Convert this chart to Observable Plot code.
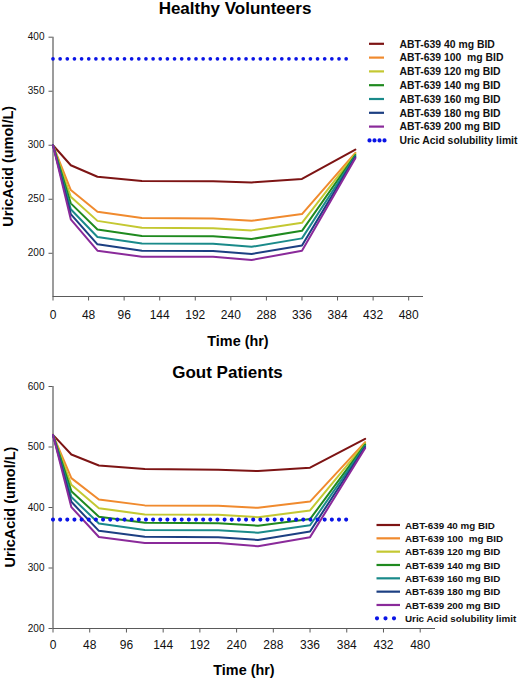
<!DOCTYPE html>
<html>
<head>
<meta charset="utf-8">
<script src="https://cdn.jsdelivr.net/npm/d3@7"></script>
<script src="https://cdn.jsdelivr.net/npm/@observablehq/plot@0.6"></script>
<style>
  html, body { margin: 0; padding: 0; background: #fff; }
  #page { position: relative; width: 520px; height: 681px; overflow: hidden; font-family: "Liberation Sans", Arial, sans-serif; }
  #page > svg, #page > div { position: absolute; left: 0; }
  .ovl text { font-family: "Liberation Sans", Arial, sans-serif; white-space: pre; }
</style>
</head>
<body>
<div id="page"></div>
<script>
// ---- data ----
const seriesNames = ["ABT-639 40 mg BID", "ABT-639 100  mg BID", "ABT-639 120 mg BID", "ABT-639 140 mg BID", "ABT-639 160 mg BID", "ABT-639 180 mg BID", "ABT-639 200 mg BID"];
const limitName = "Uric Acid solubility limit";
const seriesColors = ["#7d1414", "#f08a2e", "#c4c832", "#1f8a1f", "#1a8a8a", "#1c3f82", "#8a2a9a"];
const limitColor = "#0a14e6";

const times = [0, 24, 60, 120, 216, 268, 336, 408];
const xTicks = [0, 48, 96, 144, 192, 240, 288, 336, 384, 432, 480];

// Healthy Volunteers
const hv40  = [300, 281.5, 270.8, 267.0, 266.6, 265.6, 268.8, 296];
const hv100 = [300, 258.5, 238.4, 232.6, 232.1, 230.1, 236.3, 293];
const hv120 = [300, 252.3, 230.0, 223.7, 223.1, 221.2, 228.2, 292];
const hv140 = [300, 246.2, 222.0, 216.0, 215.7, 213.2, 220.8, 291];
const hv160 = [300, 240.8, 215.1, 209.1, 208.8, 206.0, 213.8, 290];
const hv180 = [300, 236.3, 208.3, 202.4, 202.2, 199.4, 207.2, 289];
const hv200 = [300, 231.4, 202.4, 196.8, 196.8, 193.8, 202.3, 288];
const hvYTicks = [200, 250, 300, 350, 400];
const hvYDomain = [160, 400];
const hvLimitTimes = [0, 398];

// Gout Patients
const gp40  = [520, 487.6, 469.4, 463.6, 462.4, 460.2, 465.8, 513.5];
const gp100 = [520, 448.5, 413.3, 403.5, 402.8, 399.4, 409.8, 508];
const gp120 = [520, 437.5, 398.9, 388.6, 387.9, 384.0, 395.2, 506];
const gp140 = [520, 427.0, 384.8, 374.8, 374.0, 369.9, 380.8, 504];
const gp160 = [520, 417.5, 373.4, 362.8, 362.4, 358.4, 370.6, 502];
const gp180 = [520, 409.4, 361.4, 351.5, 351.0, 346.4, 360.3, 500];
const gp200 = [520, 400.6, 351.3, 341.4, 341.4, 336.0, 351.0, 498];
const gpYTicks = [200, 300, 400, 500, 600];
const gpYDomain = [200, 600];
const gpLimitTimes = [0, 392];

const limitValue = 380;
const xDomain = [0, 500];

function tidy(seriesArrays) {
  const rows = [];
  seriesArrays.forEach((arr, i) => arr.forEach((v, j) => rows.push({series: seriesNames[i], t: times[j], v})));
  return rows;
}

function chart({series, yDomain, yTicks, limitTimes, marginTop, marginBottom, marginRight, height, yFont, xPad, dotSize}) {
  const data = tidy(series);
  const limit = limitTimes.map(t => ({t, v: limitValue}));
  const axisColor = "#5a5a5a";
  return Plot.plot({
    width: 520, height,
    marginLeft: 52.5, marginRight, marginTop, marginBottom,
    style: {fontFamily: '"Liberation Sans", Arial, sans-serif', background: "transparent", overflow: "visible"},
    x: {domain: xDomain},
    y: {domain: yDomain},
    color: {domain: seriesNames, range: seriesColors},
    marks: [
      Plot.axisX({ticks: xTicks, tickSize: 4.5, tickPadding: xPad, fontSize: 12, label: null, stroke: axisColor, fill: "#111"}),
      Plot.axisY({ticks: yTicks, tickSize: 4, tickPadding: 4.5, fontSize: yFont, label: null, stroke: axisColor, fill: "#111"}),
      Plot.ruleX([xDomain[0]], {stroke: axisColor, strokeWidth: 1.2}),
      Plot.ruleY([yDomain[0]], {stroke: axisColor, strokeWidth: 1.2}),
      Plot.line(data, {x: "t", y: "v", z: "series", stroke: "series", strokeWidth: 2, strokeLinejoin: "round"}),
      Plot.line(limit, {x: "t", y: "v", stroke: limitColor, strokeWidth: dotSize, strokeDasharray: "0 7.15", strokeLinecap: "round"})
    ]
  });
}

const page = document.getElementById("page");

const c1 = chart({series: [hv40, hv100, hv120, hv140, hv160, hv180, hv200], yDomain: hvYDomain, yTicks: hvYTicks,
  limitTimes: hvLimitTimes, marginTop: 36.7, marginBottom: 30, marginRight: 97, height: 326, yFont: 10, xPad: 9.5, dotSize: 3.7});
c1.style.top = "0px";
page.appendChild(c1);

const c2 = chart({series: [gp40, gp100, gp120, gp140, gp160, gp180, gp200], yDomain: gpYDomain, yTicks: gpYTicks,
  limitTimes: gpLimitTimes, marginTop: 46, marginBottom: 30, marginRight: 85, height: 318, yFont: 10, xPad: 7.5, dotSize: 4.1});
c2.style.top = "340px";
page.appendChild(c2);

// ---- overlay: titles, axis labels, legends ----
const ovl = d3.select(page).append("svg").attr("class", "ovl")
  .attr("width", 520).attr("height", 681).style("top", "0px").style("pointer-events", "none");

function txt(x, y, s, size, opts = {}) {
  const t = ovl.append("text").attr("x", x).attr("y", y).attr("font-size", size)
    .attr("font-weight", opts.weight || "bold").attr("text-anchor", opts.anchor || "middle").attr("fill", "#000").text(s);
  if (opts.rotate) t.attr("transform", `rotate(-90 ${x} ${y})`);
  return t;
}

txt(235, 13.5, "Healthy Volunteers", 17);
txt(227.5, 378, "Gout Patients", 17);
txt(238, 345.5, "Time (hr)", 14.4);
txt(244, 675, "Time (hr)", 14.4);
txt(13, 166.3, "UricAcid (umol/L)", 14.5, {rotate: true});
txt(14.5, 507, "UricAcid (umol/L)", 14.5, {rotate: true});

function legend({x0, x1, tx, y0, dy, size, dotStep, dotStart}) {
  seriesNames.forEach((name, i) => {
    const y = y0 + i * dy;
    ovl.append("line").attr("x1", x0).attr("x2", x1).attr("y1", y).attr("y2", y)
      .attr("stroke", seriesColors[i]).attr("stroke-width", 2.2);
    ovl.append("text").attr("x", tx).attr("y", y).attr("dy", "0.36em").attr("font-size", size)
      .attr("font-weight", "bold").attr("fill", "#111").text(name);
  });
  const y = y0 + seriesNames.length * dy;
  ovl.append("line").attr("x1", dotStart).attr("x2", x1 + 1).attr("y1", y).attr("y2", y)
    .attr("stroke", limitColor).attr("stroke-width", 4.2).attr("stroke-linecap", "round")
    .attr("stroke-dasharray", `0 ${dotStep}`);
  ovl.append("text").attr("x", tx).attr("y", y).attr("dy", "0.36em").attr("font-size", size)
    .attr("font-weight", "bold").attr("fill", "#111").text(limitName);
}

legend({x0: 369, x1: 384, tx: 399.5, y0: 43.8, dy: 13.8, size: 10.4, dotStep: 5, dotStart: 369.5});
legend({x0: 376.5, x1: 400, tx: 405, y0: 525, dy: 13.33, size: 9.8, dotStep: 8.5, dotStart: 377});
</script>
</body>
</html>
